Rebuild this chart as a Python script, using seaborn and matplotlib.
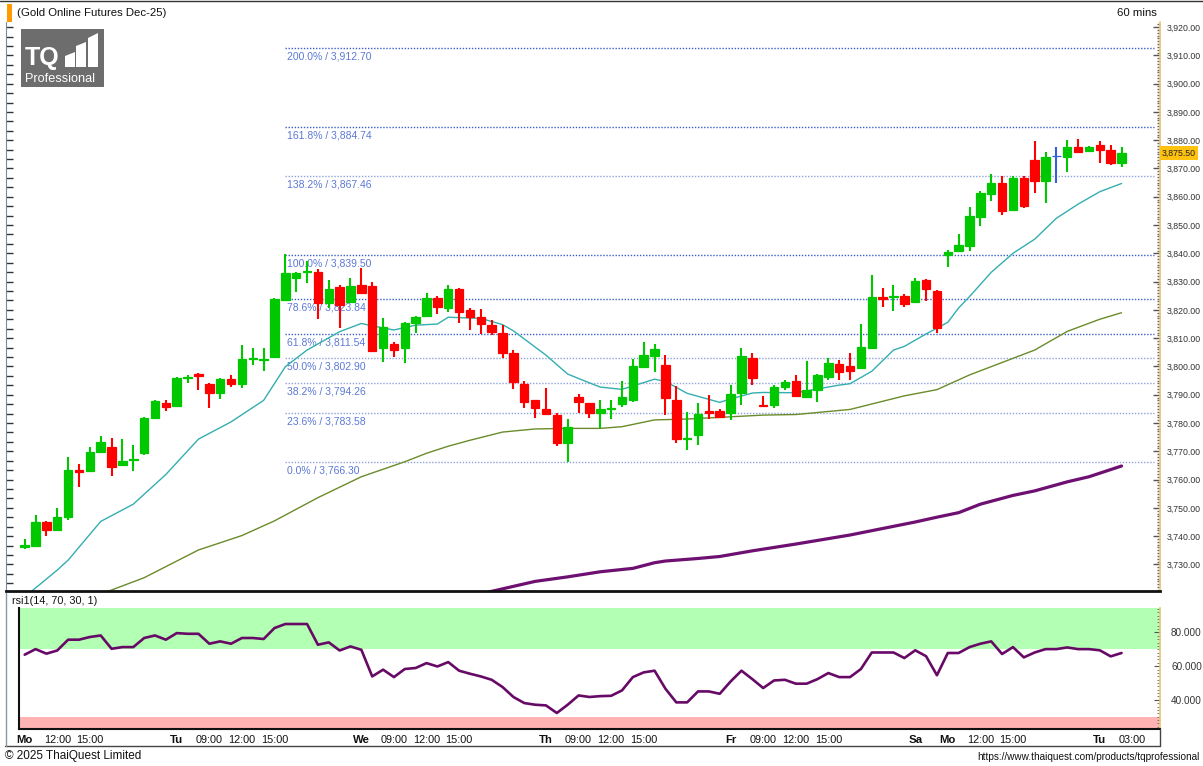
import matplotlib
matplotlib.use("Agg")
import matplotlib.pyplot as plt
from matplotlib.ticker import MultipleLocator, FuncFormatter
from matplotlib.patches import Rectangle, Polygon
from matplotlib.lines import Line2D
import seaborn as sns

# hourly candles, Gold Online Futures Dec-25
opens = [3736.3, 3736.5, 3745.1, 3742.0, 3746.6, 3763.5, 3763.2, 3769.8, 3771.6, 3765.0,
         3766.8, 3769.3, 3781.6, 3787.2, 3786.1, 3796.0, 3797.3, 3793.8, 3790.7, 3795.5,
         3793.8, 3802.5, 3802.3, 3803.2, 3823.5, 3831.4, 3833.3, 3833.5, 3822.3, 3828.2,
         3822.9, 3828.8, 3828.4, 3806.6, 3807.9, 3806.6, 3815.2, 3817.8, 3824.1, 3820.8,
         3827.3, 3819.9, 3817.4, 3814.6, 3811.7, 3804.6, 3793.8, 3788.1, 3784.9, 3782.8,
         3772.8, 3789.3, 3787.0, 3783.4, 3785.0, 3786.6, 3788.0, 3799.9, 3803.8, 3800.5,
         3788.1, 3774.2, 3775.9, 3784.1, 3784.2, 3783.5, 3790.5, 3803.1, 3786.5, 3786.5,
         3792.6, 3794.8, 3789.3, 3791.5, 3796.1, 3800.8, 3800.1, 3799.3, 3806.4, 3824.6,
         3824.6, 3825.0, 3822.7, 3830.5, 3826.8, 3839.4, 3840.9, 3842.5, 3853.0, 3861.0,
         3864.8, 3855.3, 3866.5, 3873.1, 3865.7, 3874.5, 3874.0, 3877.5, 3876.2, 3878.3,
         3876.5, 3872.0]
highs = [3739.0, 3747.5, 3745.5, 3749.8, 3768.1, 3765.5, 3771.6, 3775.5, 3774.6, 3774.2,
         3772.4, 3782.2, 3788.0, 3788.1, 3796.4, 3797.0, 3797.6, 3794.3, 3796.0, 3797.0,
         3807.6, 3806.6, 3806.4, 3824.2, 3839.6, 3833.5, 3837.3, 3834.4, 3830.6, 3828.8,
         3831.2, 3834.9, 3829.7, 3817.0, 3808.5, 3815.8, 3817.8, 3826.1, 3824.9, 3828.8,
         3827.8, 3820.5, 3820.2, 3816.3, 3814.6, 3805.8, 3794.8, 3788.3, 3792.3, 3783.4,
         3781.3, 3790.2, 3787.2, 3788.1, 3788.1, 3795.0, 3802.5, 3808.7, 3807.9, 3804.0,
         3793.1, 3784.0, 3787.0, 3789.8, 3785.0, 3793.5, 3806.4, 3804.8, 3789.4, 3793.5,
         3795.2, 3797.0, 3801.9, 3797.3, 3803.1, 3802.4, 3804.8, 3815.0, 3832.3, 3827.6,
         3828.8, 3825.5, 3831.2, 3830.8, 3827.2, 3841.2, 3846.8, 3856.5, 3862.2, 3868.0,
         3867.4, 3867.2, 3867.2, 3879.6, 3876.0, 3877.5, 3880.1, 3880.3, 3877.8, 3879.7,
         3878.2, 3877.5]
lows = [3735.5, 3736.2, 3740.0, 3742.0, 3745.7, 3757.5, 3762.6, 3769.5, 3761.4, 3764.8,
        3763.0, 3768.7, 3781.4, 3784.3, 3786.0, 3794.0, 3791.7, 3785.4, 3788.4, 3792.6,
        3792.5, 3800.5, 3798.4, 3803.0, 3823.5, 3826.4, 3829.4, 3816.8, 3820.5, 3813.5,
        3822.3, 3825.6, 3805.2, 3801.7, 3803.4, 3801.3, 3811.9, 3817.6, 3818.5, 3819.3,
        3815.5, 3812.9, 3811.5, 3811.1, 3802.9, 3792.0, 3785.2, 3781.7, 3782.8, 3771.9,
        3766.3, 3783.6, 3781.7, 3778.3, 3781.3, 3785.5, 3787.4, 3799.3, 3798.1, 3783.0,
        3772.8, 3770.4, 3772.4, 3781.3, 3781.8, 3781.0, 3786.3, 3793.5, 3785.9, 3785.3,
        3791.8, 3789.5, 3789.0, 3787.5, 3795.2, 3795.2, 3795.2, 3799.0, 3806.1, 3820.9,
        3819.6, 3821.1, 3822.5, 3823.0, 3811.9, 3835.3, 3840.8, 3840.9, 3849.5, 3858.6,
        3853.6, 3855.0, 3855.9, 3861.4, 3857.9, 3864.9, 3868.7, 3875.5, 3875.7, 3872.0,
        3871.4, 3870.6]
closes = [3736.7, 3745.1, 3742.2, 3746.6, 3763.4, 3762.8, 3769.8, 3773.2, 3764.5, 3766.5,
          3767.2, 3781.6, 3787.8, 3785.8, 3796.0, 3796.4, 3796.8, 3790.7, 3795.5, 3793.8,
          3802.5, 3802.9, 3802.8, 3823.8, 3832.9, 3833.1, 3833.6, 3822.3, 3827.3, 3821.7,
          3828.4, 3826.1, 3805.6, 3813.8, 3805.8, 3815.2, 3817.6, 3824.1, 3821.1, 3827.3,
          3819.3, 3817.6, 3815.0, 3812.3, 3804.6, 3794.4, 3787.5, 3785.2, 3783.1, 3773.0,
          3778.7, 3787.3, 3783.6, 3785.0, 3785.3, 3789.1, 3800.1, 3804.0, 3806.0, 3788.9,
          3774.2, 3774.6, 3783.2, 3783.6, 3782.3, 3790.3, 3803.8, 3795.8, 3786.0, 3792.8,
          3794.6, 3789.6, 3791.7, 3797.0, 3801.1, 3798.0, 3798.5, 3806.8, 3824.4, 3824.0,
          3825.0, 3822.1, 3830.3, 3827.3, 3813.5, 3840.6, 3842.9, 3853.3, 3861.4, 3864.8,
          3855.0, 3866.5, 3856.7, 3865.7, 3873.9, 3874.5, 3877.5, 3876.0, 3877.5, 3876.5,
          3872.0, 3875.5]

# moving averages (bar index, price)
ma_fast_idx = [0, 3, 4, 7, 10, 13, 16, 19, 22, 24, 26, 29, 31, 33, 34, 36, 38, 39, 42, 44,
               45, 48, 50, 52, 53, 55, 57, 58, 59, 61, 64, 65, 67, 68, 71, 75, 76, 78, 80, 81,
               83, 85, 86, 87, 89, 91, 93, 95, 97, 99, 101]
ma_fast_val = [3718.5, 3728.0, 3731.5, 3745.2, 3751.3, 3761.8, 3774.3, 3780.4, 3788.0, 3799.9,
               3805.8, 3812.3, 3815.2, 3813.6, 3812.9, 3814.6, 3815.0, 3817.4, 3817.0, 3814.8,
               3812.6, 3804.0, 3797.3, 3794.2, 3792.7, 3791.9, 3794.3, 3795.5, 3794.7, 3790.5,
               3787.3, 3788.5, 3790.6, 3790.8, 3790.7, 3793.4, 3793.9, 3798.3, 3805.8, 3807.1,
               3811.5, 3815.6, 3820.7, 3824.7, 3833.3, 3840.0, 3845.0, 3852.4, 3857.4, 3861.8,
               3864.7]
ma_mid_idx = [7, 11, 16, 20, 23, 27, 31, 35, 37, 39, 41, 44, 47, 50, 53, 55, 58, 61, 65, 68,
              71, 76, 81, 84, 87, 90, 93, 96, 99, 101]
ma_mid_val = [3719.5, 3725.3, 3735.1, 3740.2, 3745.4, 3753.6, 3761.0, 3766.3, 3769.3, 3771.8,
              3773.9, 3776.8, 3777.9, 3778.1, 3778.1, 3778.7, 3781.1, 3781.4, 3782.2, 3782.8,
              3783.0, 3784.8, 3789.6, 3791.8, 3797.0, 3801.4, 3805.8, 3812.4, 3816.7, 3819.0]
ma_slow_idx = [42, 47, 50, 53, 56, 58, 59, 62, 64, 67, 70, 71, 76, 79, 82, 84, 86, 88, 91, 93,
               96, 98, 101]
ma_slow_val = [3719.6, 3724.0, 3725.6, 3727.4, 3728.6, 3730.6, 3731.2, 3732.1, 3732.8, 3734.8,
               3736.6, 3737.2, 3740.4, 3742.7, 3745.0, 3746.7, 3748.3, 3751.3, 3754.4, 3756.0,
               3759.2, 3761.0, 3764.8]

rsi_values = [66.8, 70.1, 67.4, 69.3, 75.7, 75.7, 77.3, 78.2, 70.3, 71.3,
              71.3, 76.7, 78.2, 75.7, 79.6, 79.2, 79.2, 73.3, 74.7, 73.3,
              76.7, 76.7, 76.1, 82.6, 85.0, 85.0, 85.0, 72.7, 74.1, 69.3,
              71.7, 69.7, 53.9, 57.9, 53.5, 58.3, 58.9, 61.8, 59.8, 62.4,
              57.3, 55.5, 53.9, 51.9, 47.6, 41.7, 38.1, 37.1, 36.7, 32.2,
              37.1, 42.6, 41.7, 42.2, 42.4, 45.6, 53.5, 56.3, 57.3, 46.6,
              38.5, 38.5, 45.0, 45.0, 43.6, 50.9, 57.3, 52.3, 47.0, 51.5,
              51.9, 49.6, 49.6, 52.3, 55.9, 53.5, 53.5, 58.3, 68.1, 68.1,
              68.1, 64.8, 69.4, 65.9, 54.6, 67.8, 67.8, 71.3, 73.3, 74.7,
              67.2, 71.3, 65.2, 68.1, 70.1, 70.1, 71.1, 70.1, 70.1, 69.4,
              65.8, 67.8]

fib_pct = ["200.0%", "161.8%", "138.2%", "100.0%", "78.6%", "61.8%", "50.0%", "38.2%", "23.6%", "0.0%"]
fib_levels = [3912.70, 3884.74, 3867.46, 3839.50, 3823.84, 3811.54, 3802.90, 3794.26, 3783.58, 3766.30]
fib_start = 24

tick_pos = [0, 3, 6, 14, 17, 20, 23, 31, 34, 37, 40, 48, 51, 54, 57, 65, 68, 71, 74, 82, 85, 88, 91, 99, 102]
tick_lbl = ["Mo", "12:00", "15:00", "Tu", "09:00", "12:00", "15:00", "We", "09:00", "12:00", "15:00",
            "Th", "09:00", "12:00", "15:00", "Fr", "09:00", "12:00", "15:00", "Sa", "Mo", "12:00", "15:00",
            "Tu", "03:00"]

sns.set_style("white")
plt.rcParams['font.family'] = ['Liberation Sans', 'DejaVu Sans']

W, H = 1203, 766
fig = plt.figure(figsize=(W / 100, H / 100), dpi=100)


def rect(l, t, r, b):
    return [l / W, 1 - b / H, (r - l) / W, (b - t) / H]


# ---- price panel
ax = fig.add_axes(rect(6, 22, 1160, 591))
ax.set_xlim(-1.72, 104.54)
ax.set_ylim(3720.6, 3921.8)

for lvl, pct in zip(fib_levels, fib_pct):
    col = '#3a5fcd' if 3805 < lvl < 3920 and pct != "138.2%" else '#8fa3dc'
    ax.hlines(lvl, fib_start, 104.0, colors=col, linestyles=(0, (1, 1.2)), lw=1.0, zorder=1)
    ax.annotate(f"{pct} / {lvl:,.2f}", xy=(fib_start, lvl), xytext=(1, -2.5),
                textcoords='offset points', ha='left', va='top', fontsize=7.5,
                color='#5b78d6', zorder=1)

sns.lineplot(x=ma_slow_idx, y=ma_slow_val, ax=ax, color='#6e0f72', lw=2.3, zorder=2)
sns.lineplot(x=ma_mid_idx, y=ma_mid_val, ax=ax, color='#6b8b2a', lw=1.0, zorder=2)
sns.lineplot(x=ma_fast_idx, y=ma_fast_val, ax=ax, color='#34aeb0', lw=1.0, zorder=2)

for i, (o, h, l, c) in enumerate(zip(opens, highs, lows, closes)):
    if c > o:
        col = '#00c800'
    elif c < o:
        col = '#ff0000'
    else:
        col = '#3160d8'
    ax.vlines(i, l, h, color=col, lw=1.5, zorder=3)
    ax.bar(i, abs(c - o), bottom=min(o, c), width=0.78, color=col, edgecolor=col,
           lw=0.9, zorder=4)

ax.set_xticks([])
ax.yaxis.tick_right()
ax.yaxis.set_major_locator(MultipleLocator(10))
ax.yaxis.set_minor_locator(MultipleLocator(1))
ax.yaxis.set_major_formatter(FuncFormatter(lambda v, _: f"{v:,.2f}"))
ax.tick_params(axis='y', which='major', direction='in', length=5, width=1, color='#555',
               labelsize=6.3, labelcolor='#333', pad=4.5)
ax.tick_params(axis='y', which='minor', direction='in', length=2, width=1, color='#666')
ax.spines['top'].set_visible(False)
ax.spines['left'].set_visible(False)
ax.spines['right'].set_color('#e9c777')
ax.spines['right'].set_linewidth(1.2)
ax.spines['bottom'].set_color('#111')
ax.spines['bottom'].set_linewidth(2)

sec = ax.secondary_yaxis('left')
sec.yaxis.set_major_locator(MultipleLocator(10))
sec.yaxis.set_minor_locator(MultipleLocator(10 / 3))
sec.tick_params(which='both', direction='in', length=5, width=1, color='#333', labelleft=False)
sec.spines['left'].set_color('#7d8a99')

ax.annotate(f"{closes[-1]:,.2f}", xy=(1.0, closes[-1]), xycoords=('axes fraction', 'data'),
            xytext=(1.5, 0), textcoords='offset points', ha='left', va='center', fontsize=6.3,
            color='#222', bbox=dict(boxstyle='square,pad=0.25', fc='#ffc20e', ec='none'),
            annotation_clip=False, zorder=10)

# ---- RSI panel
ax2 = fig.add_axes(rect(19, 608, 1160, 729))
ax2.set_xlim(-0.525, 104.54)
ax2.set_ylim(22.7, 94.5)
ax2.axhspan(70, 100, color='#b3ffb3', lw=0, zorder=0)
ax2.axhspan(0, 30, color='#ffb3b3', lw=0, zorder=0)
sns.lineplot(x=list(range(len(rsi_values))), y=rsi_values, ax=ax2, color='#660a66', lw=1.9, zorder=3)

ax2.yaxis.tick_right()
ax2.set_yticks([40, 60, 80])
ax2.yaxis.set_minor_locator(MultipleLocator(2))
ax2.yaxis.set_major_formatter(FuncFormatter(lambda v, _: f"{v:.3f}"))
ax2.tick_params(axis='y', which='major', direction='in', length=4, color='#555',
                labelsize=7.2, labelcolor='#333', pad=8)
ax2.tick_params(axis='y', which='minor', direction='in', length=2, color='#666')
ax2.set_xticks(tick_pos)
ax2.set_xticklabels(tick_lbl)
ax2.tick_params(axis='x', length=0, pad=4, labelsize=7.8, labelcolor='#111')
for t in ax2.get_xticklabels():
    if t.get_text()[0].isalpha():
        t.set_fontweight('bold')
        t.set_fontsize(8.2)
ax2.spines['top'].set_visible(False)
ax2.spines['left'].set_color('#111')
ax2.spines['left'].set_linewidth(1.5)
ax2.spines['bottom'].set_color('#111')
ax2.spines['bottom'].set_linewidth(1.5)
ax2.spines['right'].set_color('#e9c777')
ax2.spines['right'].set_linewidth(1.2)


# ---- frame, header and footer
def fline(x0, y0, x1, y1, **kw):
    fig.add_artist(Line2D([x0 / W, x1 / W], [1 - y0 / H, 1 - y1 / H], transform=fig.transFigure, **kw))


fline(0, 0.5, W, 0.5, color='#333', lw=1)
fline(5, 746, 1160, 746, color='#444', lw=1)
fline(1160, 729, 1160, 746, color='#444', lw=1)
fline(6, 593, 6, 746, color='#8a96a3', lw=1)

fig.add_artist(Rectangle((7 / W, 1 - 22 / H), 5 / W, 18 / H, transform=fig.transFigure,
                         fc='#ff9a00', ec='none'))
fig.text(17 / W, 1 - 13 / H, "(Gold Online Futures Dec-25)", fontsize=8.2, va='center', color='#111')
fig.text(1157 / W, 1 - 13 / H, "60 mins", fontsize=8.2, va='center', ha='right', color='#111')
fig.text(12 / W, 1 - 601 / H, "rsi1(14, 70, 30, 1)", fontsize=7.8, va='center', color='#111')
fig.text(5 / W, 1 - 756 / H, "\u00a9 2025 ThaiQuest Limited", fontsize=8.5, va='center', color='#111')
fig.text(1200 / W, 1 - 757 / H, "https://www.thaiquest.com/products/tqprofessional", fontsize=7.2,
         va='center', ha='right', color='#111')

# TQ Professional logo
fig.add_artist(Rectangle((21 / W, 1 - 87 / H), 83 / W, 58 / H, transform=fig.transFigure,
                         fc='#6d6d6d', ec='none'))
fig.text(25 / W, 1 - 58 / H, "TQ", fontsize=18, fontweight='bold', color='white', va='center')
for bx, top_l, top_r in [(65, 56, 52), (76, 46, 42), (88, 38, 33)]:
    pts = [(bx, 67), (bx + 10, 67), (bx + 10, top_r), (bx, top_l)]
    fig.add_artist(Polygon([(px / W, 1 - py / H) for px, py in pts], closed=True,
                           transform=fig.transFigure, fc='white', ec='none'))
fig.text(25 / W, 1 - 78.5 / H, "Professional", fontsize=9.2, color='white', va='center')

fig.savefig("out.png", dpi=100)
